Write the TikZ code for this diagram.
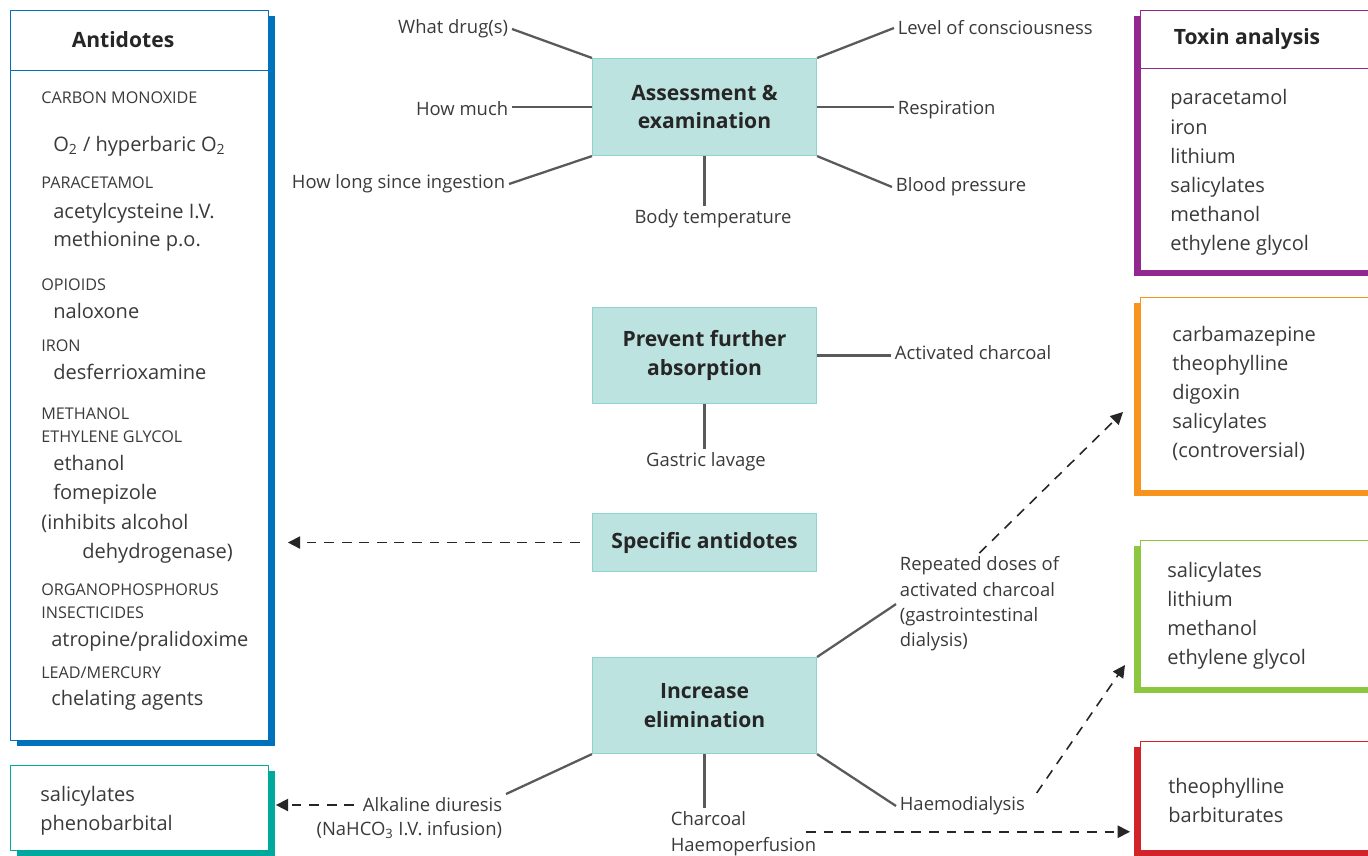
\documentclass[tikz,border=0pt]{standalone}
\usepackage{fontspec}
\setmainfont{Open Sans}
\usetikzlibrary{arrows.meta,shadows}

\definecolor{antblue}{HTML}{0072BC}
\definecolor{teal}{HTML}{00A99D}
\definecolor{toxpurple}{HTML}{92278F}
\definecolor{orng}{HTML}{F7941D}
\definecolor{grn}{HTML}{8DC63F}
\definecolor{rd}{HTML}{D2232A}
\definecolor{stagefill}{HTML}{BDE3E0}
\definecolor{stageline}{HTML}{8ED3CE}
\definecolor{txt}{HTML}{3A3A3A}
\definecolor{spokegray}{HTML}{5A5A5A}

\newcommand{\fsItem}{\fontsize{11.4}{13}\selectfont}
\newcommand{\fsLab}{\fontsize{10.5}{14.4}\selectfont}
\newcommand{\fsCap}{\fontsize{9.2}{10}\selectfont}
\newcommand{\fsHead}{\fontsize{12}{16.4}\selectfont}
\def\px{0.02cm}

\tikzset{
  lbox/.style={draw=#1, fill=white, line width=0.5pt, anchor=north west,
    drop shadow={shadow xshift=0.13cm, shadow yshift=-0.12cm, fill=#1, opacity=1}},
  rbox/.style={draw=#1, fill=white, line width=0.5pt, anchor=north west,
    drop shadow={shadow xshift=-0.13cm, shadow yshift=-0.12cm, fill=#1, opacity=1}},
  stage/.style={draw=stageline, fill=stagefill, line width=0.6pt, anchor=north west,
    minimum width=224*\px, align=center, font=\bfseries\fsHead, text=black!85},
  head/.style={font=\bfseries\fsHead, text=black!85, anchor=base},
  item/.style={font=\fsItem, text=txt, anchor=base west, inner sep=0pt},
  caplbl/.style={font=\fsCap, text=txt, anchor=base west, inner sep=0pt},
  lbl/.style={font=\fsLab, text=txt, inner sep=2pt},
  spoke/.style={draw=spokegray, line width=1.3pt},
  flow/.style={draw=black!85, line width=0.9pt, dash pattern=on 5.6pt off 4.4pt, ->}
}

\begin{document}
\begin{tikzpicture}[x=0.02cm, y=-0.02cm, >={Triangle[length=7pt,width=7pt]}, line join=round]
\clip (0,0) rectangle (1368,855);

% boxes on the left
\node[lbox=antblue, minimum width=258*\px, minimum height=730*\px] (ant) at (10,10) {};
\node[lbox=teal, minimum width=258*\px, minimum height=85*\px] (sal) at (10,765) {};
\draw[antblue, line width=0.5pt] (ant.west |- 0,70) -- (ant.east |- 0,70);
\node[head] (anthead) at (123,48) {Antidotes};

\foreach \y/\t in {98/CARBON MONOXIDE,182/PARACETAMOL,284/OPIOIDS,345/IRON,413/METHANOL,
  436/ETHYLENE GLYCOL,589/ORGANOPHOSPHORUS,612/INSECTICIDES,672/{LEAD/MERCURY}}
  \node[caplbl] (cap-\y) at (41,\y+6) {\t};
\foreach \x/\y/\t in {53/145/{O\textsubscript{2} / hyperbaric O\textsubscript{2}},
  53/212/{acetylcysteine I.V.},53/240/{methionine p.o.},53/312/naloxone,
  53/373/desferrioxamine,53/464/ethanol,53/493/fomepizole,41/523/{(inhibits alcohol},
  82/552/{dehydrogenase)},51/640/{atropine/pralidoxime},51/699/{chelating agents}}
  \node[item] (ant-\y) at (\x,\y+6) {\t};

\foreach \t [count=\i] in {salicylates,phenobarbital}
  \node[item] (sal-\i) at (40,{772+29*\i}) {\t};

% boxes on the right
\node[rbox=toxpurple, minimum width=240*\px, minimum height=260*\px] (tox) at (1140,10) {};
\node[rbox=orng, minimum width=240*\px, minimum height=193*\px] (cfour) at (1140,297) {};
\node[rbox=grn, minimum width=240*\px, minimum height=147*\px] (dial) at (1140,540) {};
\node[rbox=rd, minimum width=240*\px, minimum height=109*\px] (perf) at (1140,741) {};
\draw[toxpurple, line width=0.5pt] (tox.west |- 0,68) -- (tox.east |- 0,68);
\node[head] (toxhead) at (1247,45) {Toxin analysis};

\foreach \t [count=\i] in {paracetamol,iron,lithium,salicylates,methanol,ethylene glycol}
  \node[item] (tox-\i) at (1170,{76+29*\i}) {\t};
\foreach \t [count=\i] in {carbamazepine,theophylline,digoxin,salicylates,(controversial)}
  \node[item] (cfour-\i) at (1172,{312+29*\i}) {\t};
\foreach \t [count=\i] in {salicylates,lithium,methanol,ethylene glycol}
  \node[item] (dial-\i) at (1167,{548+29*\i}) {\t};
\foreach \t [count=\i] in {theophylline,barbiturates}
  \node[item] (perf-\i) at (1168,{764+29*\i}) {\t};

% management steps
\node[stage, minimum height=97*\px] (assess) at (592,58) {Assessment \&\\examination};
\node[stage, minimum height=96*\px] (prev) at (592,307) {Prevent further\\absorption};
\node[stage, minimum height=58*\px] (spec) at (592,513) {Specific antidotes};
\node[stage, minimum height=96*\px] (incr) at (592,657) {Increase\\elimination};

\node[lbl, anchor=east] (drug) at (512,29) {What drug(s)};
\node[lbl, anchor=east] (much) at (512,109) {How much};
\node[lbl, anchor=east] (long) at (509,184) {How long since ingestion};
\node[lbl] (temp) at (713,219) {Body temperature};
\node[lbl, anchor=west] (cons) at (894,28) {Level of consciousness};
\node[lbl, anchor=west] (resp) at (894,110) {Respiration};
\node[lbl, anchor=west] (bp) at (892,187) {Blood pressure};
\draw[spoke] (assess.north west) -- (drug.east);
\draw[spoke] (assess.west) -- (assess.west -| much.east);
\draw[spoke] (assess.south west) -- (long.east);
\draw[spoke] (assess.south) -- (assess.south |- temp.north);
\draw[spoke] (assess.north east) -- (cons.west);
\draw[spoke] (assess.east) -- (assess.east -| resp.west);
\draw[spoke] (assess.south east) -- (bp.west);

\node[lbl, anchor=west] (charc) at (891,353) {Activated charcoal};
\node[lbl] (lav) at (706,462) {Gastric lavage};
\draw[spoke] (prev.east) -- (prev.east -| charc.west);
\draw[spoke] (prev.south) -- (prev.south |- lav.north);

\node[lbl, anchor=north west, align=left] (rep) at (896,553)
  {Repeated doses of\\activated charcoal\\(gastrointestinal\\dialysis)};
\node[lbl, anchor=east] (alk) at (506,805) {Alkaline diuresis};
\node[lbl, anchor=east] (alk2) at (506,830) {(NaHCO\textsubscript{3} I.V. infusion)};
\node[lbl, anchor=north west, align=left] (hp) at (667,808) {Charcoal\\Haemoperfusion};
\node[lbl, anchor=west] (hd) at (896,806) {Haemodialysis};
\coordinate (cfourin) at (1123,412);
\coordinate (dialin) at (1125,665);
\draw[spoke] (incr.north east) -- (rep.west);
\draw[spoke] (incr.south west) -- (alk.north east);
\draw[spoke] (incr.south) -- (incr.south |- hp.north);
\draw[spoke] (incr.south east) -- (hd.west);

% dashed arrows
\draw[flow] ([xshift=-12*\px]spec.west) -- ([xshift=19*\px]ant.east |- spec.west);
\draw[flow] (rep.north) -- (cfourin);
\draw[flow] ([xshift=-5*\px]alk.west) -- ([xshift=7*\px]sal.east |- alk.west);
\draw[flow] ([xshift=-14*\px,yshift=2*\px]hp.east) -- ([xshift=-10*\px,yshift=2*\px]perf.west |- hp.east);
\draw[flow] ([xshift=8*\px]hd.north east) -- (dialin);
\end{tikzpicture}
\end{document}
